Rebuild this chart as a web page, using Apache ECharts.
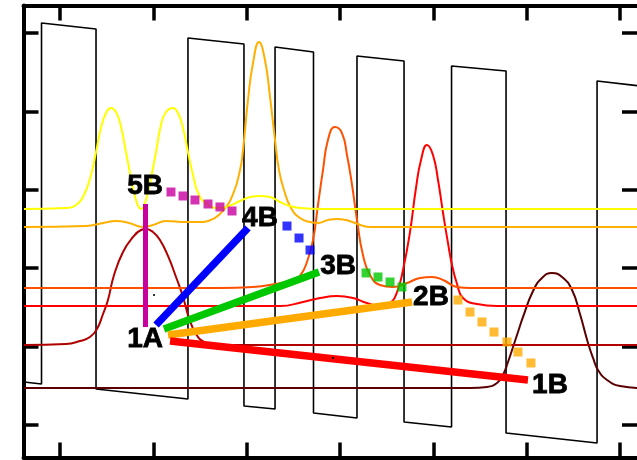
<!DOCTYPE html>
<html><head><meta charset="utf-8">
<script src="https://cdn.jsdelivr.net/npm/echarts@6/dist/echarts.min.js"></script>
<style>html,body{margin:0;padding:0;background:#fff}#c{width:637px;height:460px}</style>
</head><body><div id="c"></div>
<script>
// ---- axis ----
const xTicks = [1,2,3,4,5,6,7];
const yTicks = [0,1,2,3,4,5];
const xRange = [0.609, 7.182];
const yRange = [-0.4145, 5.3508];

// ---- black zigzag ----
const zigX = [0.614,0.802,0.802,1.386,1.386,2.371,2.371,2.971,2.971,3.304,3.304,3.716,3.716,4.182,4.182,4.686,4.686,5.195,5.195,5.779,5.779,6.754,6.754,7.214];
const zigY = [0.548,0.523,5.128,5.051,0.459,0.332,4.936,4.860,0.242,0.204,4.821,4.758,0.153,0.089,4.707,4.643,0.038,-0.026,4.579,4.515,-0.102,-0.230,4.388,4.324];

// ---- curves ----
const yellowX = [0.614,1.064,1.171,1.257,1.332,1.386,1.439,1.493,1.546,1.600,1.654,1.707,1.761,1.814,1.868,1.921,1.975,2.029,2.082,2.136,2.211,2.264,2.318,2.371,2.425,2.489,2.586,2.693,2.779,2.929,3.036,3.143,3.250,3.357,3.464,3.571,3.786,7.214];
const yellowY = [2.755,2.768,2.806,2.934,3.189,3.482,3.788,3.980,4.043,3.992,3.801,3.482,3.151,2.870,2.755,2.870,3.151,3.482,3.827,3.992,4.043,3.980,3.788,3.482,3.189,2.934,2.806,2.768,2.781,2.857,2.908,2.921,2.908,2.844,2.793,2.768,2.755,2.755];

const orangeX = [0.614,1.279,1.461,1.600,1.739,1.889,1.996,2.136,2.350,2.532,2.639,2.746,2.854,2.929,2.961,3.014,3.068,3.132,3.196,3.250,3.304,3.346,3.400,3.475,3.571,3.679,3.764,3.871,3.968,4.064,4.161,4.321,7.214];
const orangeY = [2.526,2.538,2.577,2.602,2.577,2.526,2.551,2.602,2.589,2.589,2.628,2.730,2.946,3.253,3.508,4.145,4.617,4.885,4.656,4.184,3.635,3.253,2.997,2.768,2.640,2.589,2.577,2.615,2.628,2.615,2.577,2.526,2.526];

const orangeRedX = [0.614,2.714,3.068,3.304,3.496,3.571,3.646,3.711,3.764,3.818,3.871,3.946,4.021,4.075,4.129,4.182,4.246,4.321,4.429,4.568,4.718,4.857,4.986,5.104,5.254,5.393,7.214];
const orangeRedY = [1.747,1.747,1.760,1.798,1.850,1.901,2.079,2.360,2.806,3.253,3.635,3.801,3.724,3.444,3.061,2.615,2.168,1.913,1.786,1.760,1.811,1.875,1.888,1.850,1.760,1.747,1.747];

const redX = [0.614,3.357,3.604,3.786,3.968,4.139,4.289,4.429,4.536,4.611,4.675,4.750,4.814,4.868,4.932,4.996,5.050,5.104,5.157,5.200,5.254,5.318,5.468,5.682,7.214];
const redY = [1.518,1.518,1.569,1.620,1.645,1.620,1.556,1.518,1.556,1.696,1.977,2.462,3.023,3.380,3.571,3.444,3.125,2.704,2.321,2.041,1.798,1.620,1.543,1.518,1.518];

const darkRedX = [0.614,1.064,1.214,1.321,1.396,1.461,1.514,1.579,1.675,1.782,1.868,1.921,1.996,2.071,2.157,2.243,2.318,2.382,2.457,2.543,2.661,7.214];
const darkRedY = [1.020,1.033,1.071,1.122,1.224,1.416,1.594,1.913,2.207,2.398,2.487,2.500,2.462,2.360,2.156,1.888,1.633,1.365,1.161,1.059,1.020,1.020];

const maroonX = [0.614,5.393,5.575,5.682,5.746,5.800,5.854,5.907,5.961,6.068,6.164,6.271,6.379,6.486,6.571,6.657,6.711,6.764,6.861,7.000,7.214];
const maroonY = [0.472,0.472,0.485,0.536,0.638,0.804,0.995,1.186,1.378,1.709,1.875,1.939,1.888,1.722,1.416,1.046,0.855,0.702,0.574,0.497,0.472];

// ---- thick links from 1A ----
const linkNames = ['5B','4B','3B','2B','1B'];
const linkX0 = [1.916,2.029,2.114,2.157,2.179];
const linkY0 = [1.250,1.276,1.224,1.148,1.071];
const linkX1 = [1.916,3.014,3.775,4.772,6.014];
const linkY1 = [2.819,2.513,1.952,1.569,0.574];

// ---- square-dotted paths ----
const magSqX = [2.189,2.318,2.446,2.586,2.714,2.843];
const magSqY = [2.972,2.921,2.870,2.819,2.781,2.730];
const blueSqX = [3.432,3.561,3.679];
const blueSqY = [2.538,2.385,2.232];
const greenSqX = [4.279,4.407,4.536,4.664];
const greenSqY = [1.939,1.888,1.824,1.760];
const orangeSqX = [5.264,5.393,5.521,5.650,5.789,5.907,6.046];
const orangeSqY = [1.594,1.441,1.314,1.186,1.059,0.931,0.791];

// ---- labels ----
const labelText = ['5B','4B','3B','2B','1A','1B'];
const labelX = [1.911,3.143,3.979,4.975,1.911,6.250];
const labelY = [3.048,2.640,2.028,1.633,1.097,0.510];

// ---- tiny dots ----
const dotX = [2.007,3.925];
const dotY = [1.658,0.855];

const zip = (xs, ys) => xs.map((x, i) => [x, ys[i]]);

function axisX(pos) {
  return {type:'value', position:pos, min:xRange[0], max:xRange[1],
    axisLine:{show:true, onZero:false, lineStyle:{color:'#000', width:4}},
    axisTick:{show:true, inside:true, length:15, customValues:xTicks, lineStyle:{color:'#000', width:3.5}},
    axisLabel:{show:false}, splitLine:{show:false}};
}
function axisY(pos, showLine) {
  return {type:'value', position:pos, min:yRange[0], max:yRange[1],
    axisLine:{show:showLine, onZero:false, lineStyle:{color:'#000', width:4}},
    axisTick:{show:true, inside:true, length:15, customValues:yTicks, lineStyle:{color:'#000', width:3.5}},
    axisLabel:{show:false}, splitLine:{show:false}};
}

function curve(xs, ys, color, w) {
  return {type:'line', data:zip(xs, ys), showSymbol:false, symbol:'none', smooth:0.5,
    lineStyle:{color:color, width:w}, z:3, silent:true};
}
function squares(xs, ys, color) {
  return {type:'scatter', data:zip(xs, ys), symbol:'rect', symbolSize:9,
    itemStyle:{color:color}, z:6, silent:true};
}

const linkColors = ['#c800a0','#0000ff','#00c800','#ffaa00','#ff0000'];
const linkWidths = [5,7.5,7.5,7.5,7.5];

const series = [];
series.push({type:'line', data:zip(zigX, zigY), showSymbol:false, symbol:'none',
  lineStyle:{color:'#000', width:1.6}, z:2, silent:true});
series.push(curve(maroonX, maroonY, '#5a0000', 2));
series.push(curve(darkRedX, darkRedY, '#b00000', 2));
series.push(curve(redX, redY, '#ff0000', 2));
series.push(curve(orangeRedX, orangeRedY, '#ff5000', 2));
series.push(curve(orangeX, orangeY, '#ffb000', 2));
series.push(curve(yellowX, yellowY, '#ffff00', 2));
linkNames.forEach((n, i) => {
  series.push({type:'line', name:n, data:[[linkX0[i], linkY0[i]],[linkX1[i], linkY1[i]]],
    showSymbol:false, symbol:'none', lineStyle:{color:linkColors[i], width:linkWidths[i], cap:'butt'}, z:5, silent:true});
});
series.push(squares(magSqX, magSqY, '#c800a0'));
series.push(squares(blueSqX, blueSqY, '#0000ff'));
series.push(squares(greenSqX, greenSqY, '#00c800'));
series.push(squares(orangeSqX, orangeSqY, '#ffaa00'));
series.push({type:'scatter', data:zip(dotX, dotY), symbol:'rect', symbolSize:2, itemStyle:{color:'#000'}, z:6, silent:true});
series.push({type:'scatter', data:labelX.map((x, i) => [x, labelY[i], labelText[i]]),
  symbol:'rect', symbolSize:0.1, itemStyle:{color:'#000', opacity:1}, z:8, silent:true,
  label:{show:true, position:'inside', formatter:p => p.data[2], color:'#000', opacity:1,
    textBorderWidth:0.8, textBorderColor:'#000',
    fontFamily:'Liberation Sans', fontWeight:'bold', fontSize:28}});

const chart = echarts.init(document.getElementById('c'), null, {renderer:'canvas'});
chart.setOption({
  animation:false,
  backgroundColor:'#fff',
  grid:{left:23.5, right:0, top:5.5, bottom:2.5, containLabel:false},
  xAxis:[axisX('bottom'), axisX('top')],
  yAxis:[axisY('left', true), axisY('right', false)],
  series:series
});
</script>
</body></html>
